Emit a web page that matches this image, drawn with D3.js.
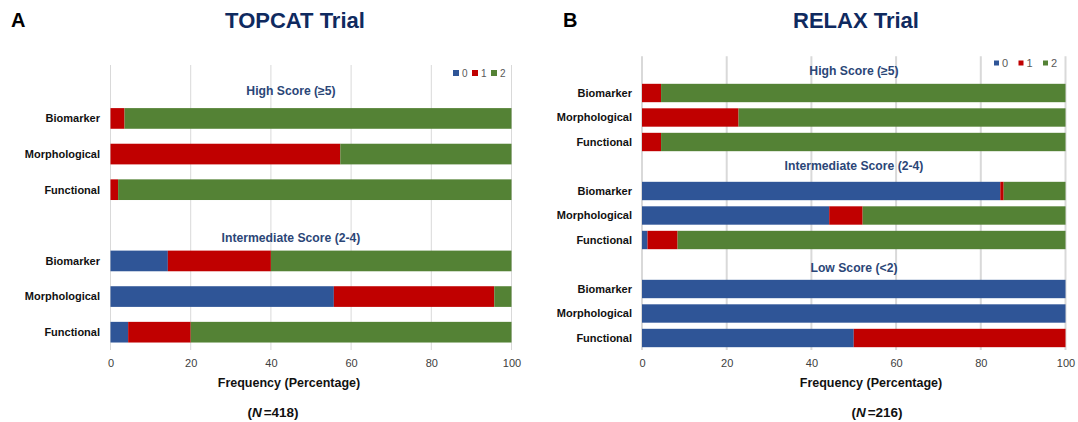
<!DOCTYPE html>
<html>
<head>
<meta charset="utf-8">
<script src="https://cdn.jsdelivr.net/npm/d3@7"></script>
<style>
  html, body { margin: 0; padding: 0; background: #fff; }
  svg { display: block; font-family: "Liberation Sans", Arial, sans-serif; }
</style>
</head>
<body>
<svg id="chart" width="1078" height="422"></svg>
<script>
// Domains shared by both panels
const categories = ["Biomarker", "Morphological", "Functional"];
const scoreLevels = ["0", "1", "2"];
const tickValues = [0, 20, 40, 60, 80, 100];

// TOPCAT trial (N = 418) — percentage of patients scoring 0 / 1 / 2 per domain
const topcatHigh0 = [0, 0, 0];
const topcatHigh1 = [3.5, 57.3, 1.9];
const topcatHigh2 = [96.5, 42.7, 98.1];
const topcatInter0 = [14.3, 55.7, 4.4];
const topcatInter1 = [25.7, 40.0, 15.6];
const topcatInter2 = [60.0, 4.3, 80.0];

// RELAX trial (N = 216)
const relaxHigh0 = [0, 0, 0];
const relaxHigh1 = [4.5, 22.8, 4.5];
const relaxHigh2 = [95.5, 77.2, 95.5];
const relaxInter0 = [84.6, 44.2, 1.3];
const relaxInter1 = [0.8, 7.9, 7.1];
const relaxInter2 = [14.6, 47.9, 91.6];
const relaxLow0 = [100, 100, 50];
const relaxLow1 = [0, 0, 50];
const relaxLow2 = [0, 0, 0];

const colors = { "0": "#2f5597", "1": "#c00000", "2": "#548235" };
const navy = "#0f2a5f";
const groupColor = "#2b4677";

const svg = d3.select("#chart");

// Builds the row list: a header row per score group followed by the three domains
function buildRows(groups) {
  const rows = [];
  groups.forEach((g, gi) => {
    rows.push({ key: "title" + gi, type: "title", title: g.title });
    categories.forEach((c, i) => {
      rows.push({
        key: g.title + "|" + c, type: "bar", label: c,
        values: { "0": g.s0[i], "1": g.s1[i], "2": g.s2[i] }
      });
    });
  });
  return rows;
}

function drawPanel(cfg) {
  const g = svg.append("g");
  const rows = buildRows(cfg.groups);
  const x = d3.scaleLinear().domain([0, 100]).range([cfg.x0, cfg.x1]);
  const y = d3.scaleBand().domain(rows.map(r => r.key))
    .range([cfg.top, cfg.bottom])
    .paddingInner(cfg.pad).paddingOuter(cfg.pad / 2);

  // Vertical gridlines
  g.append("g").selectAll("line").data(tickValues).join("line")
    .attr("x1", d => x(d)).attr("x2", d => x(d))
    .attr("y1", cfg.top).attr("y2", cfg.gridBottom)
    .attr("stroke", "#d9d9d9").attr("stroke-width", cfg.gridWidth);

  // Tick labels via d3 axis
  const axis = g.append("g")
    .attr("transform", `translate(0,${cfg.gridBottom})`)
    .call(d3.axisBottom(x).tickValues(tickValues).tickSize(0).tickPadding(cfg.tickPad));
  axis.select(".domain").remove();
  axis.selectAll("text").attr("font-size", 11).attr("fill", "#404040")
    .attr("font-family", "Liberation Sans, Arial, sans-serif");

  // Stacked bars
  const barRows = rows.filter(r => r.type === "bar");
  const stack = d3.stack().keys(scoreLevels).value((r, k) => r.values[k]);
  const series = stack(barRows);
  g.append("g").selectAll("g").data(series).join("g")
    .attr("fill", s => colors[s.key])
    .selectAll("rect").data(s => s.filter(d => d[1] - d[0] > 0)).join("rect")
    .attr("x", d => x(d[0]))
    .attr("width", d => x(d[1]) - x(d[0]))
    .attr("y", d => y(d.data.key))
    .attr("height", y.bandwidth());

  // Category labels
  g.append("g").selectAll("text").data(barRows).join("text")
    .attr("x", cfg.labelX).attr("y", r => y(r.key) + y.bandwidth() / 2)
    .attr("dy", "0.35em").attr("text-anchor", "end")
    .attr("font-size", 11).attr("font-weight", "bold").attr("fill", "#111")
    .text(r => r.label);

  // Score group headings
  const titleRows = rows.filter(r => r.type === "title");
  g.append("g").selectAll("text").data(titleRows).join("text")
    .attr("x", cfg.groupX)
    .attr("y", (r, i) => y(r.key) + y.bandwidth() / 2 + cfg.groupDy[i])
    .attr("dy", "0.35em").attr("text-anchor", "middle")
    .attr("font-size", 12.2).attr("font-weight", "bold").attr("fill", groupColor)
    .text(r => r.title);

  // Legend
  const lg = g.append("g").selectAll("g").data(scoreLevels).join("g")
    .attr("transform", (d, i) => `translate(${cfg.legendX + i * cfg.legendStep},${cfg.legendY})`);
  lg.append("rect").attr("x", 0).attr("y", -cfg.legendSq / 2)
    .attr("width", cfg.legendSq).attr("height", cfg.legendSq).attr("fill", d => colors[d]);
  lg.append("text").attr("x", cfg.legendSq + 3).attr("y", 0).attr("dy", "0.35em")
    .attr("font-size", cfg.legendFont).attr("fill", "#595959").text(d => d);

  // Axis title and sample size
  g.append("text").attr("x", cfg.axisTitleX).attr("y", 383).attr("dy", "0.35em")
    .attr("text-anchor", "middle").attr("font-size", 12.5).attr("font-weight", "bold")
    .attr("fill", "#111").text("Frequency (Percentage)");
  const n = g.append("text").attr("x", cfg.nX).attr("y", 412).attr("dy", "0.35em")
    .attr("text-anchor", "middle").attr("font-size", 13.5).attr("font-weight", "bold")
    .attr("fill", "#111");
  n.append("tspan").text("(");
  n.append("tspan").attr("font-style", "italic").text("N");
  n.append("tspan").attr("dx", 2).text("=" + cfg.n + ")");

  // Panel letter and trial title
  g.append("text").attr("x", cfg.letterX).attr("y", 20).attr("dy", "0.35em")
    .attr("font-size", 20).attr("font-weight", "bold").attr("fill", "#000").text(cfg.letter);
  g.append("text").attr("x", cfg.titleX).attr("y", 20).attr("dy", "0.35em")
    .attr("text-anchor", "middle").attr("font-size", 22).attr("font-weight", "bold")
    .attr("fill", navy).text(cfg.title);
}

drawPanel({
  letter: "A", letterX: 11, title: "TOPCAT Trial", titleX: 295, n: 418,
  x0: 110.5, x1: 511.5, top: 65, bottom: 350, gridBottom: 350, gridWidth: 1,
  pad: 0.42, tickPad: 9, labelX: 100, groupX: 291, groupDy: [8, 12],
  legendX: 453, legendStep: 19, legendY: 73, legendSq: 6, legendFont: 10,
  axisTitleX: 289, nX: 273,
  groups: [
    { title: "High Score (\u22655)", s0: topcatHigh0, s1: topcatHigh1, s2: topcatHigh2 },
    { title: "Intermediate Score (2-4)", s0: topcatInter0, s1: topcatInter1, s2: topcatInter2 }
  ]
});

drawPanel({
  letter: "B", letterX: 563, title: "RELAX Trial", titleX: 856, n: 216,
  x0: 642, x1: 1065.5, top: 56.25, bottom: 350.25, gridBottom: 350, gridWidth: 2,
  pad: 0.25, tickPad: 9, labelX: 632, groupX: 854, groupDy: [2, -1, 3],
  legendX: 994, legendStep: 24.5, legendY: 63, legendSq: 5, legendFont: 11,
  axisTitleX: 871, nX: 877,
  groups: [
    { title: "High Score (\u22655)", s0: relaxHigh0, s1: relaxHigh1, s2: relaxHigh2 },
    { title: "Intermediate Score (2-4)", s0: relaxInter0, s1: relaxInter1, s2: relaxInter2 },
    { title: "Low Score (<2)", s0: relaxLow0, s1: relaxLow1, s2: relaxLow2 }
  ]
});
</script>
</body>
</html>
